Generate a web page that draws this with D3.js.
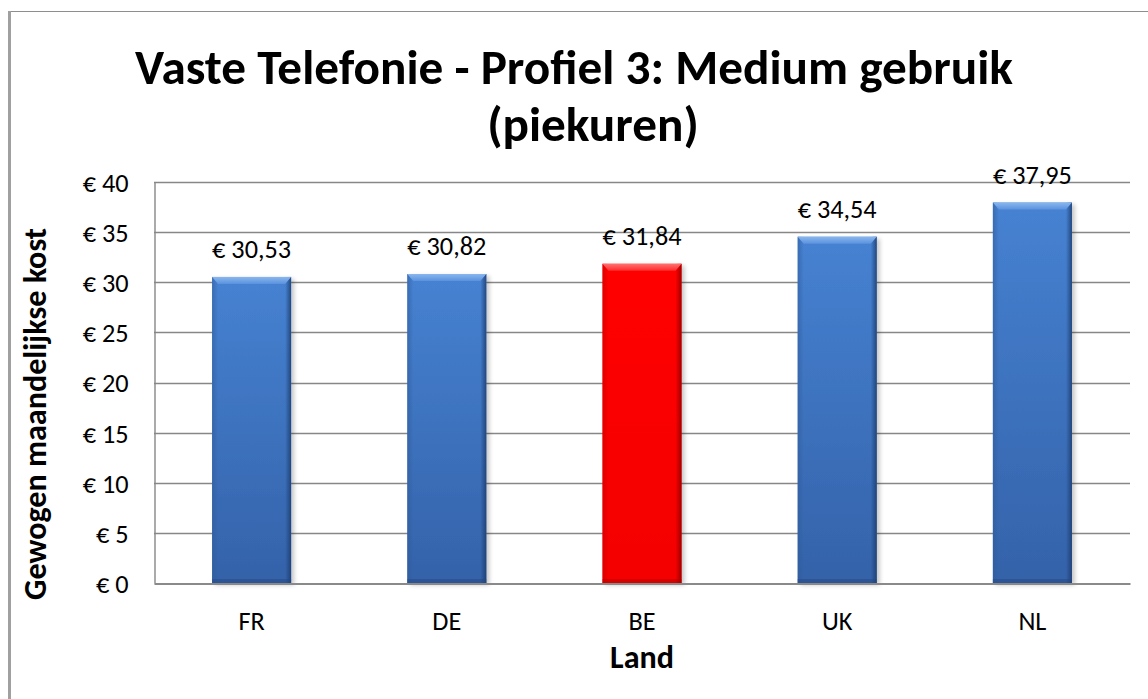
<!DOCTYPE html>
<html><head><meta charset="utf-8">
<script src="https://cdn.jsdelivr.net/npm/d3@7"></script>
<style>html,body{margin:0;padding:0;background:#fff;} svg{display:block;}</style>
</head><body>
<svg id="chart" width="1148" height="699"></svg>
<script>
// ---- data ----
const categories = ["FR", "DE", "BE", "UK", "NL"];
const values = [30.53, 30.82, 31.84, 34.54, 37.95];
const highlighted = ["BE"];
const yTicks = [0, 5, 10, 15, 20, 25, 30, 35, 40];
const titleLines = ["Vaste Telefonie - Profiel 3: Medium gebruik", "(piekuren)"];
const yTitleText = "Gewogen maandelijkse kost";
const xTitleText = "Land";

// ---- layout ----
const W = 1148, H = 699;
const plot = {x0: 154, x1: 1130, y0: 182, y1: 583};
const FONT = "Calibri, Carlito, Lato, 'Open Sans', sans-serif";

const svg = d3.select("#chart");

function fitSize(text, weight, target) {
  const t = svg.append("text").attr("font-family", FONT).attr("font-weight", weight)
    .attr("font-size", 100).text(text);
  const w = t.node().getComputedTextLength();
  t.remove();
  return 100 * target / w;
}
const fmt = v => "€ " + d3.format(".2f")(v).replace(".", ",");

const labelSize = fitSize("€ 30,82", "normal", 79);
const axisTitleSize = fitSize(yTitleText, "bold", 372);
const titleSize = fitSize(titleLines[0], "bold", 878);

// outer frame
svg.append("rect").attr("x", 9.5).attr("y", 11.5).attr("width", 1160).attr("height", 720)
  .attr("fill", "#fff").attr("stroke", "#8e8e8e").attr("stroke-width", 1);
svg.append("line").attr("x1", 9.5).attr("x2", 9.5).attr("y1", 11).attr("y2", H)
  .attr("stroke", "#a0a0a0").attr("stroke-width", 3);

// defs
const defs = svg.append("defs");
function vgrad(id, stops) {
  const g = defs.append("linearGradient").attr("id", id).attr("x1", 0).attr("x2", 0).attr("y1", 0).attr("y2", 1);
  stops.forEach(s => g.append("stop").attr("offset", s[0]).attr("stop-color", s[1]).attr("stop-opacity", s[2] == null ? 1 : s[2]));
}
function hgrad(id, stops) {
  const g = defs.append("linearGradient").attr("id", id).attr("x1", 0).attr("x2", 1).attr("y1", 0).attr("y2", 0);
  stops.forEach(s => g.append("stop").attr("offset", s[0]).attr("stop-color", s[1]).attr("stop-opacity", s[2] == null ? 1 : s[2]));
}
vgrad("blueBody", [[0, "#4682d2"], [1, "#3462a9"]]);
vgrad("redBody", [[0, "#ff0000"], [1, "#f40000"]]);
vgrad("blueTop", [[0, "#8ab6ee"], [1, "#5a92de"]]);
vgrad("redTop", [[0, "#ff7070"], [1, "#ff2a2a"]]);
hgrad("blueLeft", [[0, "#2f5a98"], [1, "#2f5a98", 0]]);
hgrad("blueRight", [[0, "#1c3d70", 0], [1, "#1c3d70"]]);
hgrad("redLeft", [[0, "#c80000"], [1, "#c80000", 0]]);
hgrad("redRight", [[0, "#900000", 0], [1, "#900000"]]);
const f = defs.append("filter").attr("id", "shadow").attr("x", "-20%").attr("y", "-20%").attr("width", "140%").attr("height", "140%");
f.append("feDropShadow").attr("dx", 3).attr("dy", 2).attr("stdDeviation", 2).attr("flood-color", "#000").attr("flood-opacity", 0.22);

// scales
const x = d3.scaleBand().domain(categories).range([plot.x0, plot.x1]).paddingInner(0.595).paddingOuter(0.2975);
const y = d3.scaleLinear().domain([0, 40]).range([plot.y1, plot.y0]);

// gridlines
svg.append("g").selectAll("line").data(yTicks.filter(t => t > 0)).join("line")
  .attr("x1", plot.x0).attr("x2", plot.x1)
  .attr("y1", d => Math.round(y(d)) + 0.5).attr("y2", d => Math.round(y(d)) + 0.5)
  .attr("stroke", "#878787").attr("stroke-width", 1.4);

// y axis
const yAxis = svg.append("g").attr("transform", `translate(${plot.x0 + 0.5},0)`)
  .call(d3.axisLeft(y).tickValues(yTicks).tickSize(0).tickPadding(26).tickFormat(d => "€ " + d));
yAxis.select(".domain").attr("stroke", "#878787").attr("stroke-width", 1.4);
yAxis.selectAll("text").attr("font-family", FONT).attr("font-size", labelSize).attr("fill", "#000").attr("dy", "0.36em");

// bars
const data = categories.map((c, i) => ({c, v: values[i], hi: highlighted.includes(c)}));
const bars = svg.append("g").selectAll("g").data(data).join("g");
const bev = 7, side = 6;
bars.each(function(d) {
  const g = d3.select(this);
  const x0 = x(d.c), bw = x.bandwidth(), x1 = x0 + bw, y0 = y(d.v), y1 = y(0);
  const k = d.hi ? "red" : "blue";
  g.append("rect").attr("x", x0).attr("y", y0).attr("width", bw).attr("height", y1 - y0)
    .attr("fill", `url(#${k}Body)`).attr("filter", "url(#shadow)");
  g.append("rect").attr("x", x0).attr("y", y0).attr("width", side).attr("height", y1 - y0).attr("fill", `url(#${k}Left)`).attr("opacity", 0.55);
  g.append("rect").attr("x", x1 - side).attr("y", y0).attr("width", side).attr("height", y1 - y0).attr("fill", `url(#${k}Right)`).attr("opacity", 0.85);
  g.append("rect").attr("x", x0).attr("y", y1 - 4).attr("width", bw).attr("height", 4).attr("fill", d.hi ? "#b00000" : "#24477e").attr("opacity", 0.45);
  g.append("polygon").attr("points", [[x0, y0], [x1, y0], [x1 - side, y0 + bev], [x0 + side, y0 + bev]].map(p => p.join(",")).join(" "))
    .attr("fill", `url(#${k}Top)`);
});

// x axis
const xAxis = svg.append("g").attr("transform", `translate(0,${plot.y1 + 0.5})`)
  .call(d3.axisBottom(x).tickSize(0).tickPadding(0));
xAxis.select(".domain").attr("stroke", "#8a8a8a").attr("stroke-width", 2);
xAxis.selectAll("text").attr("font-family", FONT).attr("font-size", labelSize).attr("fill", "#000")
  .attr("y", 620 - plot.y1).attr("dy", "0.36em");

// data labels
svg.append("g").selectAll("text").data(data).join("text")
  .attr("x", d => x(d.c) + x.bandwidth() / 2).attr("y", d => y(d.v) - 19)
  .attr("text-anchor", "middle").attr("font-family", FONT).attr("font-size", labelSize).attr("fill", "#000")
  .text(d => fmt(d.v));

// axis titles
svg.append("text").attr("transform", `translate(46,414) rotate(-90)`).attr("text-anchor", "middle")
  .attr("font-family", FONT).attr("font-weight", "bold").attr("font-size", axisTitleSize).text(yTitleText);
svg.append("text").attr("x", (plot.x0 + plot.x1) / 2).attr("y", 656).attr("dy", "0.36em").attr("text-anchor", "middle")
  .attr("font-family", FONT).attr("font-weight", "bold").attr("font-size", axisTitleSize).text(xTitleText);

// title
const tb = [84, 141];
const tx = [574, 593];
svg.append("g").selectAll("text").data(titleLines).join("text")
  .attr("x", (d, i) => tx[i]).attr("y", (d, i) => tb[i]).attr("text-anchor", "middle")
  .attr("font-family", FONT).attr("font-weight", "bold").attr("font-size", titleSize).attr("fill", "#000").text(d => d);
</script>
</body></html>
